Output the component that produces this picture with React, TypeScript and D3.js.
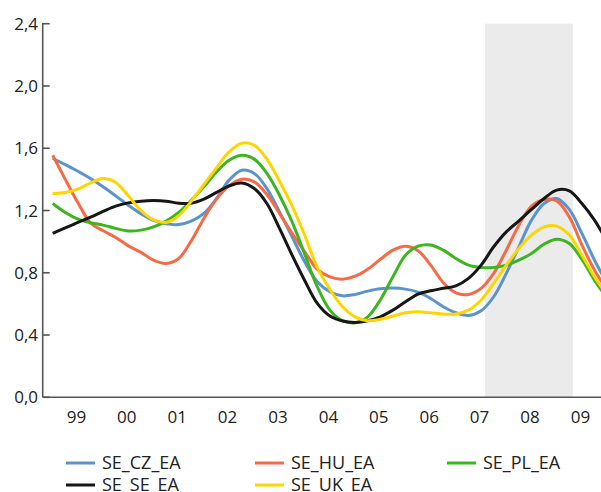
import * as d3 from "d3";

// quarterly observations, 1999Q1 .. 2010Q1
const quarters = [
  "1999Q1", "1999Q2", "1999Q3", "1999Q4", "2000Q1", "2000Q2", "2000Q3", "2000Q4",
  "2001Q1", "2001Q2", "2001Q3", "2001Q4", "2002Q1", "2002Q2", "2002Q3", "2002Q4",
  "2003Q1", "2003Q2", "2003Q3", "2003Q4", "2004Q1", "2004Q2", "2004Q3", "2004Q4",
  "2005Q1", "2005Q2", "2005Q3", "2005Q4", "2006Q1", "2006Q2", "2006Q3", "2006Q4",
  "2007Q1", "2007Q2", "2007Q3", "2007Q4", "2008Q1", "2008Q2", "2008Q3", "2008Q4",
  "2009Q1", "2009Q2", "2009Q3", "2009Q4", "2010Q1",
];

const seCz = [
  1.534, 1.495, 1.452, 1.405, 1.352, 1.294, 1.234, 1.179, 1.136, 1.114, 1.11, 1.132,
  1.181, 1.277, 1.395, 1.459, 1.438, 1.341, 1.191, 1.031, 0.87, 0.742, 0.678, 0.652,
  0.661, 0.682, 0.697, 0.702, 0.695, 0.676, 0.635, 0.582, 0.543, 0.526, 0.556, 0.646,
  0.796, 0.967, 1.138, 1.245, 1.277, 1.207, 1.053, 0.881, 0.732,
];
const seHu = [
  1.555, 1.4, 1.25, 1.12, 1.07, 1.027, 0.973, 0.931, 0.881, 0.86, 0.892, 1.005,
  1.149, 1.273, 1.358, 1.401, 1.384, 1.303, 1.181, 1.053, 0.935, 0.822, 0.774, 0.759,
  0.778, 0.823, 0.886, 0.945, 0.971, 0.941, 0.849, 0.736, 0.671, 0.661, 0.7, 0.796,
  0.945, 1.106, 1.228, 1.271, 1.262, 1.159, 0.978, 0.817, 0.689,
];
const sePl = [
  1.245, 1.187, 1.144, 1.121, 1.106, 1.085, 1.069, 1.074, 1.095, 1.132, 1.187, 1.266,
  1.352, 1.448, 1.523, 1.555, 1.53, 1.438, 1.298, 1.127, 0.92, 0.71, 0.56, 0.492,
  0.479, 0.517, 0.625, 0.774, 0.913, 0.971, 0.978, 0.945, 0.892, 0.849, 0.834, 0.834,
  0.849, 0.881, 0.924, 0.984, 1.016, 0.988, 0.886, 0.753, 0.635,
];
const seSe = [
  1.053, 1.089, 1.123, 1.157, 1.194, 1.228, 1.249, 1.26, 1.264, 1.26, 1.247, 1.247,
  1.273, 1.316, 1.358, 1.377, 1.341, 1.245, 1.085, 0.913, 0.75, 0.603, 0.522, 0.49,
  0.481, 0.492, 0.517, 0.56, 0.614, 0.663, 0.684, 0.7, 0.716, 0.764, 0.849, 0.967,
  1.063, 1.133, 1.207, 1.277, 1.331, 1.326, 1.245, 1.138, 1.0,
];
const seUk = [
  1.309, 1.316, 1.337, 1.377, 1.405, 1.38, 1.294, 1.2, 1.14, 1.123, 1.166, 1.26,
  1.367, 1.474, 1.576, 1.632, 1.619, 1.53, 1.388, 1.23, 1.04, 0.834, 0.693, 0.582,
  0.517, 0.492, 0.501, 0.522, 0.543, 0.549, 0.543, 0.535, 0.535, 0.56, 0.625, 0.732,
  0.849, 0.956, 1.042, 1.095, 1.1, 1.042, 0.913, 0.774, 0.657,
];

const seriesNames = ["SE_CZ_EA", "SE_HU_EA", "SE_PL_EA", "SE_SE_EA", "SE_UK_EA"];
const seriesValues = [seCz, seHu, sePl, seSe, seUk];
const seriesColors = ["#5b93cd", "#f46b48", "#3db420", "#161616", "#ffd500"];

const yTicks = [0, 0.4, 0.8, 1.2, 1.6, 2.0, 2.4];
const xYears = [1999, 2000, 2001, 2002, 2003, 2004, 2005, 2006, 2007, 2008, 2009];
const xLabels = ["99", "00", "01", "02", "03", "04", "05", "06", "07", "08", "09"];
const shadeSpan = [2007.58, 2009.32];

const W = 601;
const H = 492;
const FONT = "'Open Sans', sans-serif";

const toYear = (q: string) => +q.slice(0, 4) + (+q.slice(5) - 1) / 4;

export default function App() {
  const x = d3.scaleLinear().domain([1999, 2010]).range([52.7, 607.1]);
  const y = d3.scaleLinear().domain([0, 2.4]).range([397.3, 23.7]);
  const axisX = 42.7;

  const line = d3
    .line<number>()
    .x((_, i) => x(toYear(quarters[i])))
    .y((d) => y(d))
    .curve(d3.curveCatmullRom.alpha(0.5));

  // legend grid: 3 columns, 2 rows
  const legCols = [66, 255, 447];
  const legRows = [463, 485];

  return (
    <svg
      width={W}
      height={H}
      style={{ position: "absolute", left: 0, top: 0, background: "#fff" }}
      fontFamily={FONT}
    >
      <defs>
        <clipPath id="plot">
          <rect x={axisX} y={0} width={W - axisX} height={397.3} />
        </clipPath>
      </defs>

      {/* shaded period */}
      <rect
        x={x(shadeSpan[0])}
        y={y(2.4)}
        width={x(shadeSpan[1]) - x(shadeSpan[0])}
        height={y(0) - y(2.4)}
        fill="#ebebeb"
      />

      <g clipPath="url(#plot)">
        {seriesValues.map((vals, k) => (
          <path
            key={seriesNames[k]}
            d={line(vals) ?? ""}
            fill="none"
            stroke={seriesColors[k]}
            strokeWidth={3}
            strokeLinejoin="round"
          />
        ))}
      </g>

      {/* axes */}
      <line x1={axisX} x2={W} y1={y(0)} y2={y(0)} stroke="#555" strokeWidth={1.6} />
      <line x1={axisX} x2={axisX} y1={y(2.4) - 0.8} y2={y(0)} stroke="#555" strokeWidth={1.6} />
      {yTicks.map((t) => (
        <g key={t}>
          <line x1={axisX} x2={axisX + 7} y1={y(t)} y2={y(t)} stroke="#555" strokeWidth={1.6} />
          <text
            x={38}
            y={y(t)}
            dy="0.36em"
            textAnchor="end"
            fontSize={17}
            fill="#222"
          >
            {t.toFixed(1).replace(".", ",")}
          </text>
        </g>
      ))}
      {xYears.map((yr, i) => (
        <text
          key={yr}
          x={x(yr + 0.5) - 1.5}
          y={422.5}
          textAnchor="middle"
          fontSize={17}
          fill="#222"
        >
          {xLabels[i]}
        </text>
      ))}

      {/* legend */}
      {seriesNames.map((name, k) => {
        const lx = legCols[k % 3];
        const ly = legRows[Math.floor(k / 3)];
        return (
          <g key={name}>
            <line x1={lx} x2={lx + 29} y1={ly} y2={ly} stroke={seriesColors[k]} strokeWidth={3} />
            <text x={lx + 36} y={ly} dy="0.36em" fontSize={18} fill="#222">
              {name}
            </text>
          </g>
        );
      })}
    </svg>
  );
}
